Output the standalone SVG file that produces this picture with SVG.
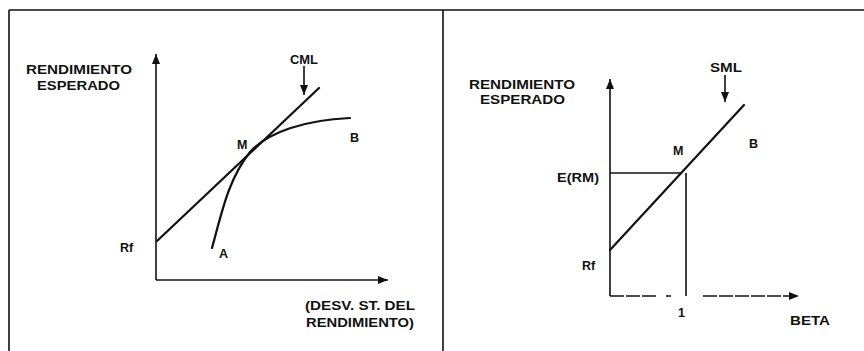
<svg xmlns="http://www.w3.org/2000/svg" width="864" height="351" viewBox="0 0 864 351">
<style>
.t{font-family:"Liberation Sans",Arial,sans-serif;font-weight:bold;font-size:12.5px;fill:#111}
.ln{stroke:#111;fill:none;stroke-width:1.6}
.thick{stroke:#111;fill:none;stroke-width:2.2;stroke-linecap:round}
</style>
<defs>
<marker id="ah" viewBox="0 0 10 8" refX="10" refY="4" markerWidth="10" markerHeight="8" markerUnits="userSpaceOnUse" orient="auto">
<path d="M0,0 L10,4 L0,8 Z" fill="#111"/>
</marker>
</defs>
<rect width="864" height="351" fill="#fff"/>
<g id="frame">
<path class="ln" d="M9,10 H864 M9,10 V351 M443,10 V351"/>
</g>
<g id="connectors">
<path class="ln" d="M156,280 V54" marker-end="url(#ah)"/>
<path class="ln" d="M156,280 H388" marker-end="url(#ah)"/>
<path class="ln" d="M304,66 V95" marker-end="url(#ah)"/>
<path class="thick" d="M157,241 L319,88"/>
<path class="thick" stroke-width="2.6" d="M212,248 C222,212 228,180 250,152 C268,132 305,120 350,118"/>
<path class="ln" d="M610,296 V79" marker-end="url(#ah)"/>
<path class="ln" d="M610,296 H658 M666,296 H671 M703,296 H799" stroke-dasharray="14,2"  marker-end="url(#ah)"/>
<path class="ln" d="M725,75 V102" marker-end="url(#ah)"/>
<path class="thick" d="M610,250 L744,105"/>
<path class="ln" d="M610,173 H681 M686,173 V296"/>
</g>
<g id="left-labels">
<text class="t" x="26" y="73.5" textLength="106" lengthAdjust="spacingAndGlyphs">RENDIMIENTO</text>
<text class="t" x="37" y="89.5" textLength="83" lengthAdjust="spacingAndGlyphs">ESPERADO</text>
<text class="t" x="290" y="64" textLength="28" lengthAdjust="spacingAndGlyphs">CML</text>
<text class="t" x="237" y="149">M</text>
<text class="t" x="350" y="142">B</text>
<text class="t" x="120" y="252">Rf</text>
<text class="t" x="219" y="258">A</text>
<text class="t" x="305" y="310" textLength="110" lengthAdjust="spacingAndGlyphs">(DESV. ST. DEL</text>
<text class="t" x="306" y="327" textLength="108" lengthAdjust="spacingAndGlyphs">RENDIMIENTO)</text>
</g>
<g id="right-labels">
<text class="t" x="469" y="89" textLength="106" lengthAdjust="spacingAndGlyphs">RENDIMIENTO</text>
<text class="t" x="480" y="104" textLength="85" lengthAdjust="spacingAndGlyphs">ESPERADO</text>
<text class="t" x="710" y="72" textLength="32" lengthAdjust="spacingAndGlyphs">SML</text>
<text class="t" x="749" y="148">B</text>
<text class="t" x="673" y="155">M</text>
<text class="t" x="557" y="182" textLength="42" lengthAdjust="spacingAndGlyphs">E(RM)</text>
<text class="t" x="582" y="270">Rf</text>
<text class="t" x="678" y="317" font-size="10">1</text>
<text class="t" x="790" y="325" textLength="40" lengthAdjust="spacingAndGlyphs">BETA</text>
</g>
</svg>
